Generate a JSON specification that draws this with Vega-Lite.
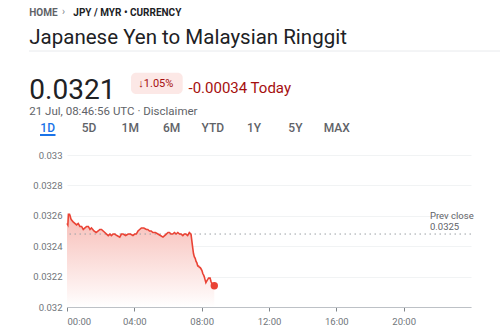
{
  "$schema": "https://vega.github.io/schema/vega-lite/v6.json",
  "width": 404,
  "height": 152,
  "autosize": {"type": "none"},
  "padding": {"left": 67, "top": 155, "right": 29, "bottom": 26},
  "background": "white",
  "config": {
    "view": {"stroke": null},
    "font": "Roboto",
    "text": {"font": "Roboto"},
    "axis": {"labelFont": "Roboto", "titleFont": "Roboto"}
  },
  "datasets": {
    "rate": [
      {"m": 0, "v": 0.03255}, {"m": 3, "v": 0.03254}, {"m": 5, "v": 0.03261}, {"m": 9, "v": 0.03261},
      {"m": 11, "v": 0.0326}, {"m": 14, "v": 0.03258}, {"m": 17, "v": 0.03257}, {"m": 22, "v": 0.03256},
      {"m": 28, "v": 0.03255}, {"m": 34, "v": 0.03254}, {"m": 40, "v": 0.03255}, {"m": 46, "v": 0.03253},
      {"m": 52, "v": 0.03253}, {"m": 58, "v": 0.03251}, {"m": 64, "v": 0.03252}, {"m": 70, "v": 0.03253},
      {"m": 76, "v": 0.03253}, {"m": 82, "v": 0.03251}, {"m": 87, "v": 0.03252}, {"m": 92, "v": 0.03251},
      {"m": 96, "v": 0.0325}, {"m": 104, "v": 0.03249}, {"m": 111, "v": 0.0325}, {"m": 117, "v": 0.03251},
      {"m": 123, "v": 0.03251}, {"m": 129, "v": 0.0325}, {"m": 135, "v": 0.03249}, {"m": 141, "v": 0.03248},
      {"m": 147, "v": 0.03247}, {"m": 153, "v": 0.03248}, {"m": 158, "v": 0.03247}, {"m": 164, "v": 0.03248},
      {"m": 170, "v": 0.03248}, {"m": 178, "v": 0.03247}, {"m": 188, "v": 0.03246}, {"m": 194, "v": 0.03248},
      {"m": 200, "v": 0.03248}, {"m": 209, "v": 0.03247}, {"m": 218, "v": 0.03248}, {"m": 226, "v": 0.03248},
      {"m": 235, "v": 0.03247}, {"m": 241, "v": 0.03248}, {"m": 247, "v": 0.03248}, {"m": 253, "v": 0.0325},
      {"m": 259, "v": 0.03251}, {"m": 265, "v": 0.03252}, {"m": 274, "v": 0.03252}, {"m": 283, "v": 0.03251},
      {"m": 288, "v": 0.03251}, {"m": 294, "v": 0.0325}, {"m": 300, "v": 0.0325}, {"m": 306, "v": 0.03249},
      {"m": 315, "v": 0.03249}, {"m": 324, "v": 0.03248}, {"m": 333, "v": 0.03247}, {"m": 342, "v": 0.03246},
      {"m": 348, "v": 0.03247}, {"m": 354, "v": 0.03248}, {"m": 360, "v": 0.03249}, {"m": 365, "v": 0.03249},
      {"m": 371, "v": 0.03248}, {"m": 377, "v": 0.03248}, {"m": 383, "v": 0.03249}, {"m": 389, "v": 0.03248},
      {"m": 395, "v": 0.03249}, {"m": 401, "v": 0.03248}, {"m": 407, "v": 0.03248}, {"m": 413, "v": 0.03247},
      {"m": 418, "v": 0.03248}, {"m": 424, "v": 0.03248}, {"m": 430, "v": 0.03247}, {"m": 436, "v": 0.03249},
      {"m": 442, "v": 0.03248}, {"m": 448, "v": 0.03239}, {"m": 451, "v": 0.03235}, {"m": 454, "v": 0.03233},
      {"m": 457, "v": 0.03232}, {"m": 460, "v": 0.0323}, {"m": 463, "v": 0.03229}, {"m": 466, "v": 0.03227},
      {"m": 469, "v": 0.03227}, {"m": 472, "v": 0.03226}, {"m": 475, "v": 0.03226}, {"m": 478, "v": 0.03225},
      {"m": 481, "v": 0.03224}, {"m": 484, "v": 0.03222}, {"m": 487, "v": 0.03221}, {"m": 489, "v": 0.0322},
      {"m": 492, "v": 0.03218}, {"m": 495, "v": 0.03216}, {"m": 498, "v": 0.03217}, {"m": 501, "v": 0.03218},
      {"m": 505, "v": 0.03219}, {"m": 510, "v": 0.03219}, {"m": 513, "v": 0.03217}, {"m": 517, "v": 0.03215},
      {"m": 521, "v": 0.03214}, {"m": 525, "v": 0.03214}
    ],
    "prev": [{"close": 0.03248}],
    "tabs": [
      {"tab": "1D"}, {"tab": "5D"}, {"tab": "1M"}, {"tab": "6M"},
      {"tab": "YTD"}, {"tab": "1Y"}, {"tab": "5Y"}, {"tab": "MAX"}
    ],
    "one": [{}]
  },
  "layer": [
    {
      "layer": [
        {
          "data": {"name": "rate"},
          "mark": {
            "type": "area",
            "color": {
              "gradient": "linear", "x1": 0, "y1": 0, "x2": 0, "y2": 1,
              "stops": [
                {"offset": 0, "color": "#f7bdb7"},
                {"offset": 0.85, "color": "#fef4f3"},
                {"offset": 1, "color": "#ffffff"}
              ]
            }
          },
          "encoding": {
            "x": {
              "field": "m", "type": "quantitative",
              "scale": {"domain": [0, 1440], "nice": false, "zero": false},
              "axis": {
                "title": null,
                "values": [0, 240, 480, 720, 960, 1200],
                "tickCount": 12,
                "labelExpr": "utcFormat(datum.value * 60000, '%H:%M')",
                "grid": false,
                "domainColor": "#bdc1c6",
                "tickColor": "#80868b",
                "tickSize": 4,
                "labelPadding": 5,
                "labelFontSize": 9.5,
                "labelColor": "#70757a",
                "labelOverlap": false
              }
            },
            "y": {
              "field": "v", "type": "quantitative",
              "scale": {"domain": [0.032, 0.033], "nice": false, "zero": false},
              "axis": {
                "title": null,
                "values": [0.032, 0.0322, 0.0324, 0.0326, 0.0328, 0.033],
                "tickCount": 10,
                "format": ".4~f",
                "domain": false,
                "ticks": false,
                "grid": true,
                "gridColor": "#f1f3f4",
                "labelPadding": 5,
                "labelFontSize": 9.5,
                "labelColor": "#70757a",
                "labelOverlap": false,
                "labelFlush": false
              }
            },
            "y2": {"datum": 0.032}
          }
        },
        {
          "data": {"name": "prev"},
          "mark": {"type": "rule", "color": "#9aa0a6", "strokeDash": [1.5, 3.5], "strokeWidth": 1},
          "encoding": {"y": {"field": "close", "type": "quantitative"}}
        },
        {
          "data": {"name": "rate"},
          "mark": {"type": "line", "color": "#ea4335", "strokeWidth": 1.6, "interpolate": "linear"},
          "encoding": {
            "x": {"field": "m", "type": "quantitative"},
            "y": {"field": "v", "type": "quantitative"}
          }
        },
        {
          "data": {"name": "rate"},
          "transform": [{"filter": "datum.m == 525"}],
          "mark": {"type": "point", "filled": true, "color": "#ea4335", "size": 55, "opacity": 1},
          "encoding": {
            "x": {"field": "m", "type": "quantitative"},
            "y": {"field": "v", "type": "quantitative"}
          }
        },
        {
          "data": {"name": "prev"},
          "mark": {
            "type": "text", "align": "left", "baseline": "alphabetic",
            "dx": -41, "dy": -15, "fontSize": 9.5, "lineHeight": 11,
            "lineBreak": "\n", "color": "#5f6368"
          },
          "encoding": {
            "x": {"datum": 1440, "type": "quantitative"},
            "y": {"field": "close", "type": "quantitative"},
            "text": {"value": "Prev close\n0.0325"}
          }
        }
      ]
    },
    {
      "data": {"name": "tabs"},
      "mark": {"type": "text", "align": "center", "baseline": "alphabetic", "fontSize": 12, "fontWeight": 500},
      "encoding": {
        "x": {
          "field": "tab", "type": "nominal", "sort": null,
          "scale": {"type": "point", "domain": ["1D", "5D", "1M", "6M", "YTD", "1Y", "5Y", "MAX"], "range": [-19.3, 269.7], "padding": 0},
          "axis": null
        },
        "y": {"value": -23.3},
        "text": {"field": "tab"},
        "color": {"condition": {"test": "datum.tab == '1D'", "value": "#1a73e8"}, "value": "#5f6368"}
      }
    },
    {
      "data": {"name": "one"},
      "mark": {"type": "rule", "color": "#1a73e8", "strokeWidth": 2},
      "encoding": {"x": {"value": -27}, "x2": {"value": -11.5}, "y": {"value": -20}}
    },
    {
      "data": {"name": "one"},
      "mark": {"type": "rule", "color": "#e8eaed", "strokeWidth": 1},
      "encoding": {"x": {"value": -38}, "x2": {"value": 433}, "y": {"value": -104}}
    },
    {
      "data": {"name": "one"},
      "mark": {"type": "text", "align": "left", "fontSize": 10, "fontWeight": "bold", "color": "#5f6368"},
      "encoding": {"x": {"value": -37.7}, "y": {"value": -142.3}, "text": {"value": "HOME"}}
    },
    {
      "data": {"name": "one"},
      "mark": {"type": "text", "align": "center", "fontSize": 10, "color": "#80868b"},
      "encoding": {"x": {"value": -3.5}, "y": {"value": -143}, "text": {"value": "›"}}
    },
    {
      "data": {"name": "one"},
      "mark": {"type": "text", "align": "left", "fontSize": 10, "fontWeight": "bold", "color": "#202124"},
      "encoding": {"x": {"value": 6.3}, "y": {"value": -142.3}, "text": {"value": "JPY / MYR • CURRENCY"}}
    },
    {
      "data": {"name": "one"},
      "mark": {"type": "text", "align": "left", "fontSize": 20.5, "color": "#202124"},
      "encoding": {"x": {"value": -37.7}, "y": {"value": -116.7}, "text": {"value": "Japanese Yen to Malaysian Ringgit"}}
    },
    {
      "data": {"name": "one"},
      "mark": {"type": "text", "align": "left", "fontSize": 28, "color": "#202124"},
      "encoding": {"x": {"value": -37.7}, "y": {"value": -63.8}, "text": {"value": "0.0321"}}
    },
    {
      "data": {"name": "one"},
      "mark": {"type": "rect", "color": "#fce8e6", "cornerRadius": 5},
      "encoding": {"x": {"value": 64}, "x2": {"value": 115.7}, "y": {"value": -82.3}, "y2": {"value": -61}}
    },
    {
      "data": {"name": "one"},
      "mark": {"type": "text", "align": "left", "fontSize": 11, "color": "#a50e0e"},
      "encoding": {"x": {"value": 71.3}, "y": {"value": -71}, "text": {"value": "↓1.05%"}}
    },
    {
      "data": {"name": "one"},
      "mark": {"type": "text", "align": "left", "fontSize": 15, "color": "#a50e0e"},
      "encoding": {"x": {"value": 121.5}, "y": {"value": -66.7}, "text": {"value": "-0.00034 Today"}}
    },
    {
      "data": {"name": "one"},
      "mark": {"type": "text", "align": "left", "fontSize": 11.5, "color": "#5f6368"},
      "encoding": {"x": {"value": -37.7}, "y": {"value": -43.5}, "text": {"value": "21 Jul, 08:46:56 UTC · Disclaimer"}}
    }
  ],
  "resolve": {"scale": {"x": "independent"}}
}
